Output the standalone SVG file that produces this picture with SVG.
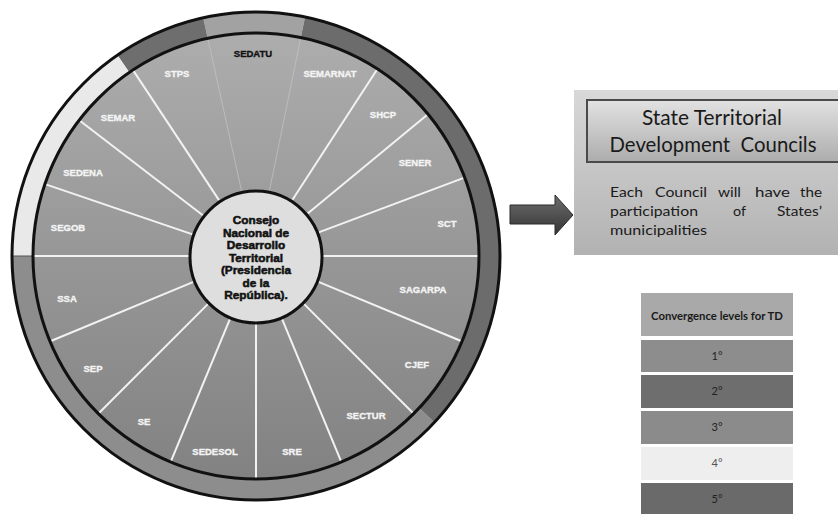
<svg xmlns="http://www.w3.org/2000/svg" width="838" height="514" viewBox="0 0 838 514">
<defs>
<linearGradient id="wedgeGrad" x1="0" y1="0" x2="0" y2="1">
<stop offset="0" stop-color="#adadad"/>
<stop offset="0.5" stop-color="#979797"/>
<stop offset="1" stop-color="#828282"/>
</linearGradient>
<linearGradient id="boxGrad" x1="0" y1="0" x2="0" y2="1">
<stop offset="0" stop-color="#d8d8d8"/>
<stop offset="1" stop-color="#b2b2b2"/>
</linearGradient>
<linearGradient id="titleGrad" x1="0" y1="0" x2="0" y2="1">
<stop offset="0" stop-color="#e2e2e2"/>
<stop offset="1" stop-color="#acacac"/>
</linearGradient>
<linearGradient id="arrowGrad" x1="0" y1="0" x2="0" y2="1">
<stop offset="0" stop-color="#6e6e6e"/>
<stop offset="1" stop-color="#333333"/>
</linearGradient>
<style>
.lbl{font-family:"Liberation Sans",Arial,sans-serif;font-weight:bold;font-size:9.5px;fill:#f4f4f4;stroke:#f4f4f4;stroke-width:0.35;text-anchor:middle}
.ctr{font-family:"Liberation Sans",Arial,sans-serif;font-weight:bold;font-size:11.8px;fill:#111;stroke:#111;stroke-width:0.55;text-anchor:middle}
.div{stroke:#f2f2f2;stroke-width:2;fill:none}
.faint{stroke:#c4c4c4;stroke-width:1;fill:none;opacity:0.7}
.title{font-family:Lato,"Open Sans",sans-serif;font-size:20.5px;fill:#1a1a1a;text-anchor:middle}
.body{font-family:Lato,"Open Sans",sans-serif;font-size:14px;fill:#1a1a1a}
.leg{font-family:Lato,"Open Sans",sans-serif;font-size:11px;fill:#222;text-anchor:middle}
.legh{font-family:Lato,"Open Sans",sans-serif;font-size:10.5px;font-weight:bold;fill:#1a1a1a;text-anchor:middle}
.blk{fill:none;stroke:#111;stroke-width:3}
</style>
</defs>
<rect width="838" height="514" fill="#ffffff"/>

<g id="wheel">
<g id="ring">
<path d="M203.2,17.8 A244,244 0 0 1 305.1,17.0 L300.8,37.5 A223,223 0 0 0 207.7,38.3 Z" fill="#a2a2a2"/>
<path d="M117.5,55.2 A244,244 0 0 1 203.2,17.8 L207.7,38.3 A223,223 0 0 0 129.4,72.4 Z" fill="#6e6e6e"/>
<path d="M12,256 A244,244 0 0 1 117.5,55.2 L129.4,72.4 A223,223 0 0 0 33,256 Z" fill="#e9e9e9"/>
<path d="M434.5,422.4 A244,244 0 0 1 12,256 L33,256 A223,223 0 0 0 419.1,408.1 Z" fill="#8d8d8d"/>
<path d="M305.1,17.0 A244,244 0 0 1 434.5,422.4 L419.1,408.1 A223,223 0 0 0 300.8,37.5 Z" fill="#6c6c6c"/>
<line x1="12" y1="256" x2="33" y2="256" stroke="#555" stroke-width="1"/>
<circle class="blk" cx="256" cy="256" r="244"/>
</g>
<circle id="wedges" cx="256" cy="256" r="223" fill="url(#wedgeGrad)"/>
<g id="dividers">
<line class="faint" x1="269.5" y1="190.4" x2="300.6" y2="38.5"/>
<line class="faint" x1="241.5" y1="190.6" x2="208.0" y2="39.3"/>
<line class="div" x1="292.5" y1="199.8" x2="376.9" y2="69.8"/>
<line class="div" x1="307.7" y1="213.4" x2="427.3" y2="114.8"/>
<line class="div" x1="318.7" y1="232.4" x2="463.8" y2="177.9"/>
<line class="div" x1="323" y1="256" x2="478" y2="256"/>
<line class="div" x1="317.9" y1="281.6" x2="461.1" y2="341.0"/>
<line class="div" x1="303.4" y1="303.4" x2="413.0" y2="413.0"/>
<line class="div" x1="281.6" y1="317.9" x2="341.0" y2="461.1"/>
<line class="div" x1="256" y1="323" x2="256" y2="478"/>
<line class="div" x1="230.4" y1="317.9" x2="171.0" y2="461.1"/>
<line class="div" x1="208.6" y1="303.4" x2="99.0" y2="413.0"/>
<line class="div" x1="194.1" y1="281.6" x2="50.9" y2="341.0"/>
<line class="div" x1="189" y1="256" x2="34" y2="256"/>
<line class="div" x1="192.6" y1="234.4" x2="45.8" y2="184.4"/>
<line class="div" x1="202.8" y1="215.2" x2="79.9" y2="120.8"/>
<line class="div" x1="219.0" y1="200.1" x2="133.5" y2="70.9"/>
</g>
<circle class="blk" cx="256" cy="256" r="223"/>
<g id="labels">
<text class="lbl" x="253" y="57" style="fill:#111;stroke:#111">SEDATU</text>
<text class="lbl" x="177" y="77">STPS</text>
<text class="lbl" x="330" y="77">SEMARNAT</text>
<text class="lbl" x="118" y="121">SEMAR</text>
<text class="lbl" x="383" y="118">SHCP</text>
<text class="lbl" x="83" y="176">SEDENA</text>
<text class="lbl" x="415" y="166">SENER</text>
<text class="lbl" x="68" y="231">SEGOB</text>
<text class="lbl" x="447" y="227">SCT</text>
<text class="lbl" x="67" y="302">SSA</text>
<text class="lbl" x="423" y="293">SAGARPA</text>
<text class="lbl" x="93" y="372">SEP</text>
<text class="lbl" x="417" y="368">CJEF</text>
<text class="lbl" x="144" y="425">SE</text>
<text class="lbl" x="366" y="419">SECTUR</text>
<text class="lbl" x="215" y="455">SEDESOL</text>
<text class="lbl" x="292" y="455">SRE</text>
</g>
</g>

<g id="center">
<circle cx="256" cy="257" r="66" fill="#dedede" stroke="#111" stroke-width="3"/>
<text class="ctr" x="256" y="224">Consejo</text>
<text class="ctr" x="256" y="236.5">Nacional de</text>
<text class="ctr" x="256" y="249">Desarrollo</text>
<text class="ctr" x="256" y="261.5">Territorial</text>
<text class="ctr" x="256" y="274">(Presidencia</text>
<text class="ctr" x="256" y="286.5">de la</text>
<text class="ctr" x="256" y="299">República).</text>
</g>

<g id="connectors">
<path d="M510,205 H555 V195 L573,215 L555,235 V224 H510 Z" fill="url(#arrowGrad)" stroke="#2a2a2a" stroke-width="1"/>
</g>

<g id="state-councils">
<rect x="574" y="90" width="270" height="165" fill="url(#boxGrad)"/>
<rect x="587" y="100" width="260" height="62" fill="url(#titleGrad)" stroke="#4a4a4a" stroke-width="2"/>
<text class="title" x="712" y="125" textLength="140" lengthAdjust="spacingAndGlyphs">State Territorial</text>
<text class="title" x="713" y="152" textLength="207" lengthAdjust="spacingAndGlyphs" xml:space="preserve">Development  Councils</text>
<text class="body" x="610" y="197" textLength="33" lengthAdjust="spacingAndGlyphs">Each</text>
<text class="body" x="655" y="197" textLength="52" lengthAdjust="spacingAndGlyphs">Council</text>
<text class="body" x="718" y="197" textLength="23" lengthAdjust="spacingAndGlyphs">will</text>
<text class="body" x="755" y="197" textLength="35" lengthAdjust="spacingAndGlyphs">have</text>
<text class="body" x="800" y="197" textLength="22" lengthAdjust="spacingAndGlyphs">the</text>
<text class="body" x="610" y="216" textLength="88" lengthAdjust="spacingAndGlyphs">participation</text>
<text class="body" x="733" y="216" textLength="13" lengthAdjust="spacingAndGlyphs">of</text>
<text class="body" x="777" y="216" textLength="45" lengthAdjust="spacingAndGlyphs">States’</text>
<text class="body" x="610" y="235" textLength="97" lengthAdjust="spacingAndGlyphs">municipalities</text>
</g>

<g id="legend">
<rect x="641" y="293" width="152" height="43" fill="#a9a9a9"/>
<text class="legh" x="717" y="320" textLength="132" lengthAdjust="spacingAndGlyphs">Convergence levels for TD</text>
<rect x="641" y="340" width="152" height="32" fill="#8d8d8d"/>
<text class="leg" x="717" y="360">1°</text>
<rect x="641" y="375" width="152" height="33" fill="#6e6e6e"/>
<text class="leg" x="717" y="395">2°</text>
<rect x="641" y="411" width="152" height="33" fill="#8b8b8b"/>
<text class="leg" x="717" y="431">3°</text>
<rect x="641" y="447" width="152" height="33" fill="#eeeeee"/>
<text class="leg" x="717" y="467" style="fill:#555">4°</text>
<rect x="641" y="483" width="152" height="33" fill="#6a6a6a"/>
<text class="leg" x="717" y="503">5°</text>
</g>
</svg>
